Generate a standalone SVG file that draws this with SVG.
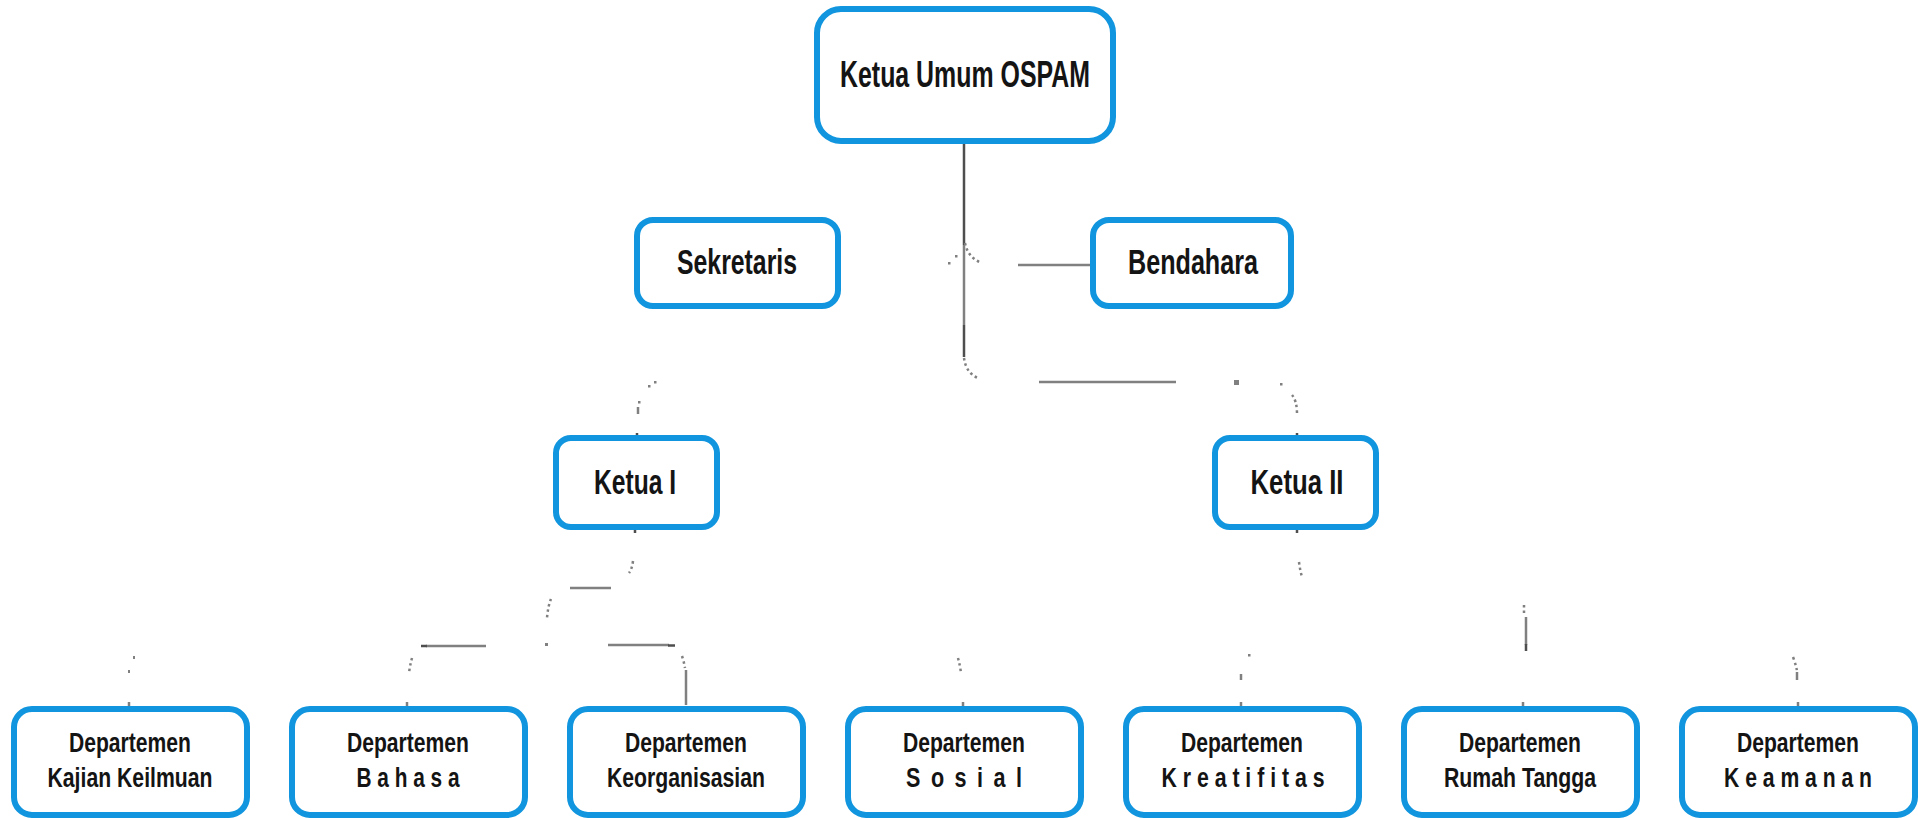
<svg xmlns="http://www.w3.org/2000/svg" width="1918" height="818" viewBox="0 0 1918 818">
<style>
.box{fill:#ffffff;stroke:#1095de;stroke-width:6}
.t{font-family:"Liberation Sans",Arial,sans-serif;font-weight:bold;fill:#141414;text-anchor:middle}
.big{font-size:35px}
.sm{font-size:27px}
.c{stroke:#808080;stroke-width:2.5;fill:none}
.cd{stroke:#4e4e4e;stroke-width:2.5;fill:none}
.dt{stroke:#808080;stroke-width:2.5;fill:none;stroke-dasharray:2.5 3}
.d{fill:#808080}
</style>
<rect width="1918" height="818" fill="#ffffff"/>
<g id="connectors">
  <path class="cd" d="M964,142 V245"/>
  <path class="c" d="M964,245 V325"/>
  <path class="cd" d="M964,325 V357"/>
  <path class="dt" d="M965,243 Q968,258 982,263"/>
  <rect class="d" x="955" y="255" width="2.5" height="2.5"/>
  <rect class="d" x="948" y="262" width="2.5" height="2.5"/>
  <path class="c" d="M1018,265 H1091"/>
  <path class="dt" d="M964,358 Q966,373 978,378"/>
  <path class="c" d="M1039,382 H1176"/>
  <rect class="d" x="1234" y="380" width="5" height="5"/>
  <rect class="d" x="1280" y="383" width="2.5" height="2.5"/>
  <path class="dt" d="M1292,395 Q1297,401 1297,414"/>
  <path class="cd" d="M1297,433 V441"/>
  <rect class="d" x="654" y="381" width="2.5" height="2.5"/>
  <rect class="d" x="648" y="385" width="2.5" height="2.5"/>
  <rect class="d" x="638" y="401" width="2.5" height="2.5"/>
  <path class="c" d="M638,407 V414"/>
  <path class="cd" d="M637,433 V441"/>
  <path class="cd" d="M635,526 V533"/>
  <path class="dt" d="M633,561 Q632,569 629,573"/>
  <path class="c" d="M570,588 H611"/>
  <path class="dt" d="M551,599 Q548,606 547,618"/>
  <path class="c" d="M426,646 H486"/>
  <path class="cd" d="M421,646 H427"/>
  <rect class="d" x="545" y="643" width="3" height="3"/>
  <path class="c" d="M608,645 H669"/>
  <path class="cd" d="M668,645.5 H675"/>
  <path class="dt" d="M682,656 Q684,662 685,668"/>
  <path class="c" d="M686,670 V705"/>
  <path class="dt" d="M412,658 Q410,665 409,673"/>
  <path class="c" d="M407,702 V707"/>
  <rect class="d" x="133" y="656" width="2" height="3"/>
  <rect class="d" x="128" y="670" width="2" height="3"/>
  <path class="c" d="M129,702 V707"/>
  <path class="dt" d="M958,658 Q960,665 961,673"/>
  <path class="c" d="M963,702 V707"/>
  <rect class="d" x="1248" y="654" width="2.5" height="2.5"/>
  <path class="c" d="M1241,674 V680"/>
  <path class="c" d="M1241,702 V707"/>
  <path class="cd" d="M1297,526 V533"/>
  <path class="dt" d="M1299,562 Q1300,570 1302,577"/>
  <path class="dt" d="M1524,605 V616"/>
  <path class="c" d="M1526,617 V645"/>
  <path class="cd" d="M1526,644 V651"/>
  <path class="c" d="M1523,702 V707"/>
  <path class="dt" d="M1793,657 Q1796,665 1797,671"/>
  <path class="c" d="M1797,672 V680"/>
  <path class="c" d="M1798,702 V707"/>
</g>
<g id="node-ketua-umum">
  <rect class="box" x="817" y="9" width="296" height="132" rx="24"/>
  <text class="t" x="965" y="87" font-size="36" textLength="250" lengthAdjust="spacingAndGlyphs">Ketua Umum OSPAM</text>
</g>
<g id="node-sekretaris">
  <rect class="box" x="637" y="220" width="201" height="86" rx="16"/>
  <text class="t big" x="737" y="274" textLength="120" lengthAdjust="spacingAndGlyphs">Sekretaris</text>
</g>
<g id="node-bendahara">
  <rect class="box" x="1093" y="220" width="198" height="86" rx="16"/>
  <text class="t big" x="1193" y="274" textLength="130" lengthAdjust="spacingAndGlyphs">Bendahara</text>
</g>
<g id="node-ketua-1">
  <rect class="box" x="556" y="438" width="161" height="89" rx="15"/>
  <text class="t big" x="635" y="494" textLength="82" lengthAdjust="spacingAndGlyphs">Ketua I</text>
</g>
<g id="node-ketua-2">
  <rect class="box" x="1215" y="438" width="161" height="89" rx="15"/>
  <text class="t big" x="1297" y="494" textLength="93" lengthAdjust="spacingAndGlyphs">Ketua II</text>
</g>
<g id="node-kajian">
  <rect class="box" x="14" y="709" width="233" height="106" rx="18"/>
  <text class="t sm" x="130" y="752" textLength="122" lengthAdjust="spacingAndGlyphs">Departemen</text>
  <text class="t sm" x="130" y="787" textLength="165" lengthAdjust="spacingAndGlyphs">Kajian Keilmuan</text>
</g>
<g id="node-bahasa">
  <rect class="box" x="292" y="709" width="233" height="106" rx="18"/>
  <text class="t sm" x="408" y="752" textLength="122" lengthAdjust="spacingAndGlyphs">Departemen</text>
  <text class="t sm" x="408" y="787" textLength="103" lengthAdjust="spacingAndGlyphs">B a h a s a</text>
</g>
<g id="node-keorganisasian">
  <rect class="box" x="570" y="709" width="233" height="106" rx="18"/>
  <text class="t sm" x="686" y="752" textLength="122" lengthAdjust="spacingAndGlyphs">Departemen</text>
  <text class="t sm" x="686" y="787" textLength="158" lengthAdjust="spacingAndGlyphs">Keorganisasian</text>
</g>
<g id="node-sosial">
  <rect class="box" x="848" y="709" width="233" height="106" rx="18"/>
  <text class="t sm" x="964" y="752" textLength="122" lengthAdjust="spacingAndGlyphs">Departemen</text>
  <text class="t sm" x="1205" y="787" transform="scale(0.8,1)" textLength="145" lengthAdjust="spacing">S o s i a l</text>
</g>
<g id="node-kreatifitas">
  <rect class="box" x="1126" y="709" width="233" height="106" rx="18"/>
  <text class="t sm" x="1242" y="752" textLength="122" lengthAdjust="spacingAndGlyphs">Departemen</text>
  <text class="t sm" x="1243" y="787" textLength="163" lengthAdjust="spacingAndGlyphs">K r e a t i f i t a s</text>
</g>
<g id="node-rumah-tangga">
  <rect class="box" x="1404" y="709" width="233" height="106" rx="18"/>
  <text class="t sm" x="1520" y="752" textLength="122" lengthAdjust="spacingAndGlyphs">Departemen</text>
  <text class="t sm" x="1520" y="787" textLength="152" lengthAdjust="spacingAndGlyphs">Rumah Tangga</text>
</g>
<g id="node-keamanan">
  <rect class="box" x="1682" y="709" width="233" height="106" rx="18"/>
  <text class="t sm" x="1798" y="752" textLength="122" lengthAdjust="spacingAndGlyphs">Departemen</text>
  <text class="t sm" x="1798" y="787" textLength="148" lengthAdjust="spacingAndGlyphs">K e a m a n a n</text>
</g>
</svg>
